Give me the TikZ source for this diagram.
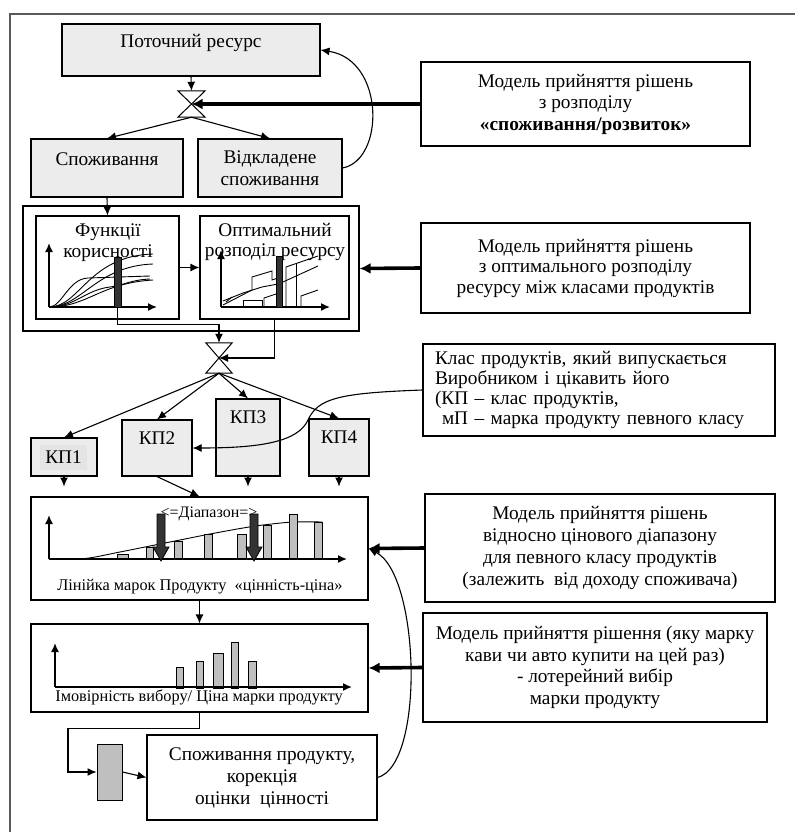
\documentclass[tikz,border=0pt]{standalone}
\usepackage{fontspec}
\setmainfont{Liberation Serif}
\usetikzlibrary{arrows.meta,calc}
\definecolor{boxgray}{RGB}{236,236,236}
\definecolor{kpinner}{RGB}{228,228,228}
\definecolor{barlight}{RGB}{191,191,191}
\definecolor{bardark}{RGB}{51,51,51}
\definecolor{framegray}{RGB}{90,90,90}
\begin{document}
\begin{tikzpicture}[x=1pt,y=-1pt,
  font=\fontsize{19.3}{21.5}\selectfont,
  bx/.style={draw=black, line width=1.1pt, inner sep=0pt, fill=white},
  gbx/.style={bx, fill=boxgray},
  txt/.style={inner sep=0pt, align=center},
  arr/.style={line width=1.1pt, -{Latex[length=9pt,width=8pt]}},
  tarr/.style={line width=3.6pt, -{Latex[length=11pt,width=11pt]}},
  axarr/.style={line width=1.5pt, -{Latex[length=9pt,width=8pt]}},
  lbar/.style={draw=black, line width=1pt, fill=barlight},
  valve/.style={inner sep=0pt, minimum width=27pt, minimum height=26pt},
  crv/.style={line width=0.9pt}]
\useasboundingbox (0,0) rectangle (795,832);

% outer frame
\draw[line width=1.2pt, draw=framegray] (10,832) -- (10,14) -- (795,14);

% ---------- top part ----------
\node[gbx, minimum width=258pt, minimum height=52pt] (cur) at (191,50) {};
\node[txt] (curt) at (191,43) {Поточний ресурс};

\node[valve] (v1) at (191.5,104) {};
\draw[line width=1pt, fill=white] (v1.north west) -- (v1.north east) -- (v1.south west) -- (v1.south east) -- cycle;

\node[bx, minimum width=329pt, minimum height=84pt, align=center] (m1) at (585.5,104)
  {Модель прийняття рішень\\з розподілу\\\textbf{«споживання/розвиток»}};

\node[gbx, minimum width=152pt, minimum height=58pt] (cons) at (107,168) {};
\node[txt] (const) at (107,159) {Споживання};
\node[gbx, minimum width=144pt, minimum height=58pt, align=center,
  font=\fontsize{19.3}{22.5}\selectfont] (def) at (270,168) {Відкладене\\споживання};

\draw[arr] (cur.south) -- (v1.north);
\draw[tarr] (m1.west) -- (v1.center);
\draw[arr] (v1.south) -- (cons.north);
\draw[arr] (v1.south) -- (def.north);
\draw[arr] (def.east) .. controls (385,160) and (385,60) .. (cur.east);

% ---------- container with two plots ----------
\node[bx, minimum width=336pt, minimum height=125pt] (cont) at (191,268.5) {};
\node[bx, minimum width=143pt, minimum height=103pt] (f1) at (107.5,267.5) {};
\node[bx, minimum width=149pt, minimum height=103pt] (f2) at (274.5,267.5) {};
\node[txt, font=\fontsize{19.3}{21}\selectfont] (f1t) at (108,242.5) {Функції\\корисності};
\node[txt, font=\fontsize{19.3}{20}\selectfont] (f2t) at (275,242) {Оптимальний\\розподіл ресурсу};

% utility functions
\draw[crv] (49,307) .. controls (62,307) and (68,279) .. (88,278) -- (150,276);
\draw[crv] (49,307) .. controls (80,307) and (88,256) .. (153,254);
\draw[crv] (49,307) .. controls (82,307) and (96,266) .. (153,264);
\draw[crv] (49,307) .. controls (88,307) and (100,283) .. (153,280);
\draw[crv] (49,307) .. controls (75,307) and (85,290) .. (110,287) .. controls (125,285) and (130,280) .. (150,279);
\draw[axarr] (49,307) -- (49,243);
\draw[axarr] (49,307) -- (157,307);
\node[draw=black, line width=0.8pt, fill=bardark, inner sep=0pt, minimum width=7pt, minimum height=50pt] (fb1) at (117.5,282) {};

% optimal allocation
\draw[crv] (223,305) -- (252,290) -- (252,277) -- (272,271) -- (272,280) -- (278,278);
\draw[crv] (223,301) -- (243,293) -- (262,287) -- (278,284);
\draw[crv] (243,307) -- (243,300) -- (262,300) -- (262,307);
\draw[crv] (264,307) -- (264,298) -- (276,294);
\draw[crv] (283,282) -- (318,266);
\draw[crv] (286,307) -- (286,267) -- (318,256);
\draw[crv] (296,307) -- (296,263);
\draw[crv] (301,307) -- (301,296) -- (318,290);
\draw[crv] (226,302) -- (232,297);
\draw[axarr] (221,307) -- (221,250);
\draw[axarr] (221,307) -- (330,307);
\node[draw=black, line width=0.8pt, fill=bardark, inner sep=0pt, minimum width=6pt, minimum height=51pt] (fb2) at (279,281.5) {};

\node[bx, minimum width=329pt, minimum height=90pt, align=center,
  font=\fontsize{19.3}{20.5}\selectfont] (m2) at (585.5,268)
  {Модель прийняття рішень\\з оптимального розподілу\\ресурсу між класами продуктів};

\draw[arr] (cons.south) -- (f1.north);
\draw[arr] (f1.east) -- (f2.west);
\draw[tarr] (m2.west) -- (cont.east);

% ---------- second valve and product classes ----------
\node[valve, minimum width=26pt, minimum height=30pt] (v2) at (219,358) {};
\draw[line width=1pt, fill=white] (v2.north west) -- (v2.north east) -- (v2.south west) -- (v2.south east) -- cycle;

\draw[arr] (fb1.south) -- ++(0,17) -| (v2.north);
\draw[arr] (f2.south) |- (v2.center);

\node[gbx, minimum width=66pt, minimum height=38pt] (kp1) at (64,457) {};
\node[gbx, minimum width=70pt, minimum height=56pt] (kp2) at (157,448) {};
\node[gbx, minimum width=64pt, minimum height=77pt] (kp3) at (248,437.5) {};
\node[gbx, minimum width=60pt, minimum height=57pt] (kp4) at (339,447.5) {};
\node[txt, fill=kpinner, minimum width=47pt, minimum height=25pt] (kp1t) at (63.5,457.5) {КП1};
\node[txt] (kp2t) at (157,438) {КП2};
\node[txt] (kp3t) at (248,417) {КП3};
\node[txt] (kp4t) at (339,437) {КП4};

\foreach \k in {kp1,kp2,kp3,kp4} \draw[arr] (v2.south) -- (\k.north);
\foreach \k in {kp1,kp3,kp4} \draw[arr] (\k.south) -- ++(0,10);

\node[bx, text width=328pt, inner xsep=12pt, minimum height=92pt, align=left,
  font=\fontsize{19.3}{20}\selectfont] (klas) at (599,390)
  {Клас продуктів, який випускається\\Виробником і цікавить його\\(КП – клас продуктів,\\\hspace*{7pt}мП – марка продукту певного класу};
\draw[arr] (klas.west) .. controls (340,393) and (318,398) .. (308,420) .. controls (298,442) and (260,448) .. (kp2.east);

% ---------- brand line ----------
\node[bx, minimum width=337pt, minimum height=103pt] (lin) at (199.5,548.5) {};
\node[txt, font=\fontsize{16.3}{18}\selectfont] (lint) at (200,587) {Лінійка марок Продукту\ \ «цінність-ціна»};
\draw[crv] plot[smooth] coordinates {(49,559) (85,558.5) (120,552) (150,546) (180,540) (210,534) (243,528) (263,525) (293,522) (322,522)};
\foreach \a/\b/\t in {117/128/554, 146/153/547, 174/182/541, 204/212/534, 237/246/534, 263/271/525, 289/297/514, 314/322/522}
  \draw[lbar] (\a,559) rectangle (\b,\t);
\draw[axarr] (49,559) -- (49,515);
\draw[axarr] (49,559) -- (347,559);
\node[txt, font=\fontsize{16}{18}\selectfont] (diap) at (209,514) {<=Діапазон=>};
\foreach \c in {161,254}
  \draw[fill=bardark, line width=0.8pt] (\c-4,514) -- (\c+4,514) -- (\c+4,547) -- (\c+8,547) -- (\c,561) -- (\c-8,547) -- (\c-4,547) -- cycle;

\draw[arr] (kp2.south) -- (lin.north);

\node[bx, minimum width=350pt, minimum height=108pt, align=center,
  font=\fontsize{19.3}{22}\selectfont] (m3) at (600,548)
  {Модель прийняття рішень\\відносно цінового діапазону\\для певного класу продуктів\\(залежить\ \ від доходу споживача)};
\draw[tarr] (m3.west) -- (lin.east);

% ---------- probability ----------
\node[bx, minimum width=337pt, minimum height=88pt] (prob) at (199.5,668) {};
\foreach \a/\b/\t in {176/183/667, 196/203/661, 213/223/653, 231/238/642, 248/256/661}
  \draw[lbar] (\a,688) rectangle (\b,\t);
\draw[axarr] (55,687) -- (55,643);
\draw[axarr] (55,687) -- (352,687);
\node[txt, font=\fontsize{16.3}{18}\selectfont] (probt) at (199,697) {Імовірність вибору/ Ціна марки продукту};

\draw[arr] (lin.south) -- (prob.north);

\node[bx, minimum width=344pt, minimum height=109pt, align=center,
  font=\fontsize{19.3}{21.7}\selectfont] (m4) at (595,667.5)
  {Модель прийняття рішення (яку марку\\кави чи авто купити на цей раз)\\- лотерейний вибір\\марки продукту};
\draw[tarr] (m4.west) -- (prob.east);

% ---------- consumption ----------
\node[draw=black, line width=1pt, fill=barlight, inner sep=0pt, minimum width=25pt, minimum height=56pt] (gr) at (109.5,772) {};
\node[bx, minimum width=230pt, minimum height=85pt, align=center,
  font=\fontsize{19.3}{22}\selectfont] (sp) at (262,777.5)
  {Споживання продукту,\\корекція\\оцінки\ \ цінності};

\draw[arr] (prob.south) -- ++(0,16) -- ++(-131.5,0) |- (gr.west);
\draw[arr] (gr.east) -- (sp.west);
\draw[arr] (sp.east) .. controls (425,765) and (420,575) .. (lin.east);
\end{tikzpicture}
\end{document}
